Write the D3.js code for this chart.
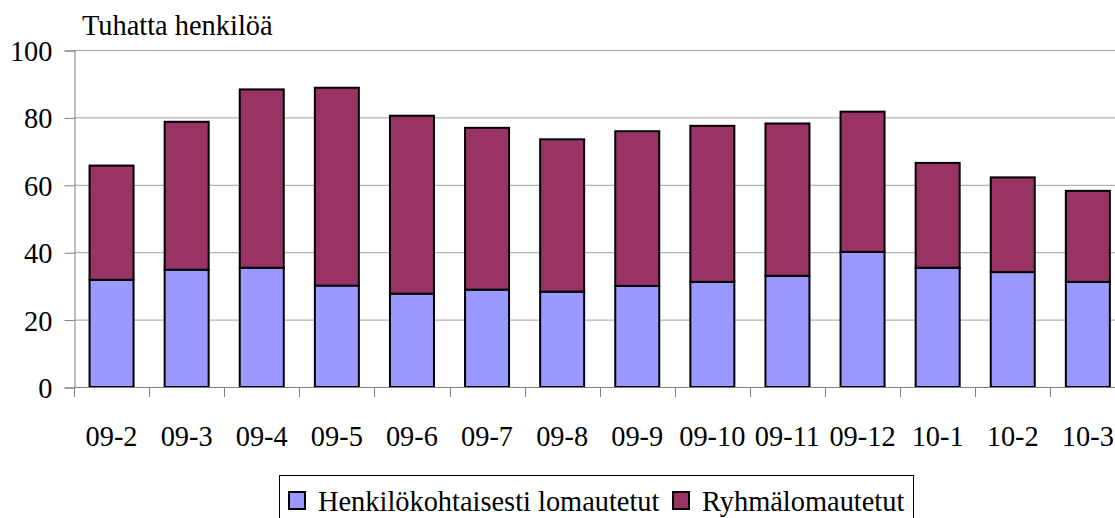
<!DOCTYPE html>
<html>
<head>
<meta charset="utf-8">
<script src="https://cdn.jsdelivr.net/npm/d3@7"></script>
</head>
<body style="margin:0; background:#fff; overflow:hidden">
<div id="chart"></div>
<script>
// data (thousands of persons)
var months = ["09-2", "09-3", "09-4", "09-5", "09-6", "09-7", "09-8", "09-9", "09-10", "09-11", "09-12", "10-1", "10-2", "10-3"];
var henkilo = [31.8, 34.8, 35.4, 30.1, 27.7, 28.9, 28.3, 30.0, 31.2, 33.0, 40.1, 35.4, 34.1, 31.2];
var ryhma   = [33.9, 43.9, 52.9, 58.7, 52.8, 48.0, 45.2, 45.9, 46.3, 45.2, 41.6, 31.1, 28.1, 27.0];
var yTicks = [0, 20, 40, 60, 80, 100];
var keys = ["Henkilökohtaisesti lomautetut", "Ryhmälomautetut"];
var colors = ["#9999ff", "#993366"];

var width = 1115, height = 518;
var serif = "Liberation Serif";
var fontSize = "28.4px";

var svg = d3.select("#chart")
    .append("svg")
    .attr("width", width)
    .attr("height", height)
    .style("font-family", serif);

var data = months.map(function (m, i) {
    var d = { month: m };
    d[keys[0]] = henkilo[i];
    d[keys[1]] = ryhma[i];
    return d;
});

var stacked = d3.stack().keys(keys)(data);

// plot area runs past the right edge of the window, like the original
var x = d3.scaleBand()
    .domain(months)
    .range([74, 1125.4])
    .paddingInner(0.414)
    .paddingOuter(0.207);

var y = d3.scaleLinear()
    .domain([0, 100])
    .range([387, 50]);

// gridlines
svg.append("g")
    .selectAll("line")
    .data(yTicks.filter(function (t) { return t > 0; }))
    .enter()
    .append("line")
    .attr("x1", 74)
    .attr("x2", width)
    .attr("y1", function (d) { return y(d) + 0.5; })
    .attr("y2", function (d) { return y(d) + 0.5; })
    .attr("stroke", "#a0a0a0")
    .attr("stroke-width", 1);

// y axis
var yAxis = svg.append("g")
    .attr("transform", "translate(74.5,0.5)")
    .call(d3.axisLeft(y).tickValues(yTicks).tickSize(10).tickPadding(12))
    .attr("font-family", serif);
yAxis.select(".domain").attr("stroke", "#808080");
yAxis.selectAll(".tick line").attr("stroke", "#808080");
yAxis.selectAll("text")
    .style("font-family", serif)
    .style("font-size", fontSize)
    .attr("dy", "0.35em");

// bars
svg.selectAll(".layer")
    .data(stacked)
    .enter()
    .append("g")
    .attr("class", "layer")
    .attr("fill", function (d, i) { return colors[i]; })
    .selectAll("rect")
    .data(function (d) { return d; })
    .enter()
    .append("rect")
    .attr("x", function (d) { return x(d.data.month); })
    .attr("y", function (d) { return y(d[1]); })
    .attr("width", x.bandwidth())
    .attr("height", function (d) { return y(d[0]) - y(d[1]); })
    .attr("stroke", "#000")
    .attr("stroke-width", 2);

// x axis with ticks on band boundaries
var step = x.step();
var x0 = x.range()[0];
var boundaries = d3.range(months.length + 1).map(function (i) { return x0 + i * step; });
var xAxis = svg.append("g");
xAxis.append("line")
    .attr("x1", 74).attr("x2", width)
    .attr("y1", 387.5).attr("y2", 387.5)
    .attr("stroke", "#808080");
xAxis.selectAll(".xtick")
    .data(boundaries)
    .enter()
    .append("line")
    .attr("x1", function (d) { return Math.round(d) + 0.5; })
    .attr("x2", function (d) { return Math.round(d) + 0.5; })
    .attr("y1", 387)
    .attr("y2", 397)
    .attr("stroke", "#808080");
xAxis.selectAll(".xlabel")
    .data(months)
    .enter()
    .append("text")
    .attr("x", function (d) { return x(d) + x.bandwidth() / 2; })
    .attr("y", 446)
    .attr("text-anchor", "middle")
    .style("font-family", serif)
    .style("font-size", fontSize)
    .text(function (d) { return d; });

// axis title
svg.append("text")
    .attr("x", 82)
    .attr("y", 35)
    .style("font-family", serif)
    .style("font-size", fontSize)
    .text("Tuhatta henkilöä");

// legend
var legend = svg.append("g");
legend.append("rect")
    .attr("x", 279.5)
    .attr("y", 475.5)
    .attr("width", 634)
    .attr("height", 60)
    .attr("fill", "none")
    .attr("stroke", "#000");

var legendX = [289, 673];
keys.forEach(function (k, i) {
    legend.append("rect")
        .attr("x", legendX[i])
        .attr("y", 492)
        .attr("width", 16)
        .attr("height", 17)
        .attr("fill", colors[i])
        .attr("stroke", "#000")
        .attr("stroke-width", 2);
    legend.append("text")
        .attr("x", legendX[i] + 29)
        .attr("y", 511)
        .style("font-family", serif)
        .style("font-size", fontSize)
        .text(k);
});
</script>
</body>
</html>
